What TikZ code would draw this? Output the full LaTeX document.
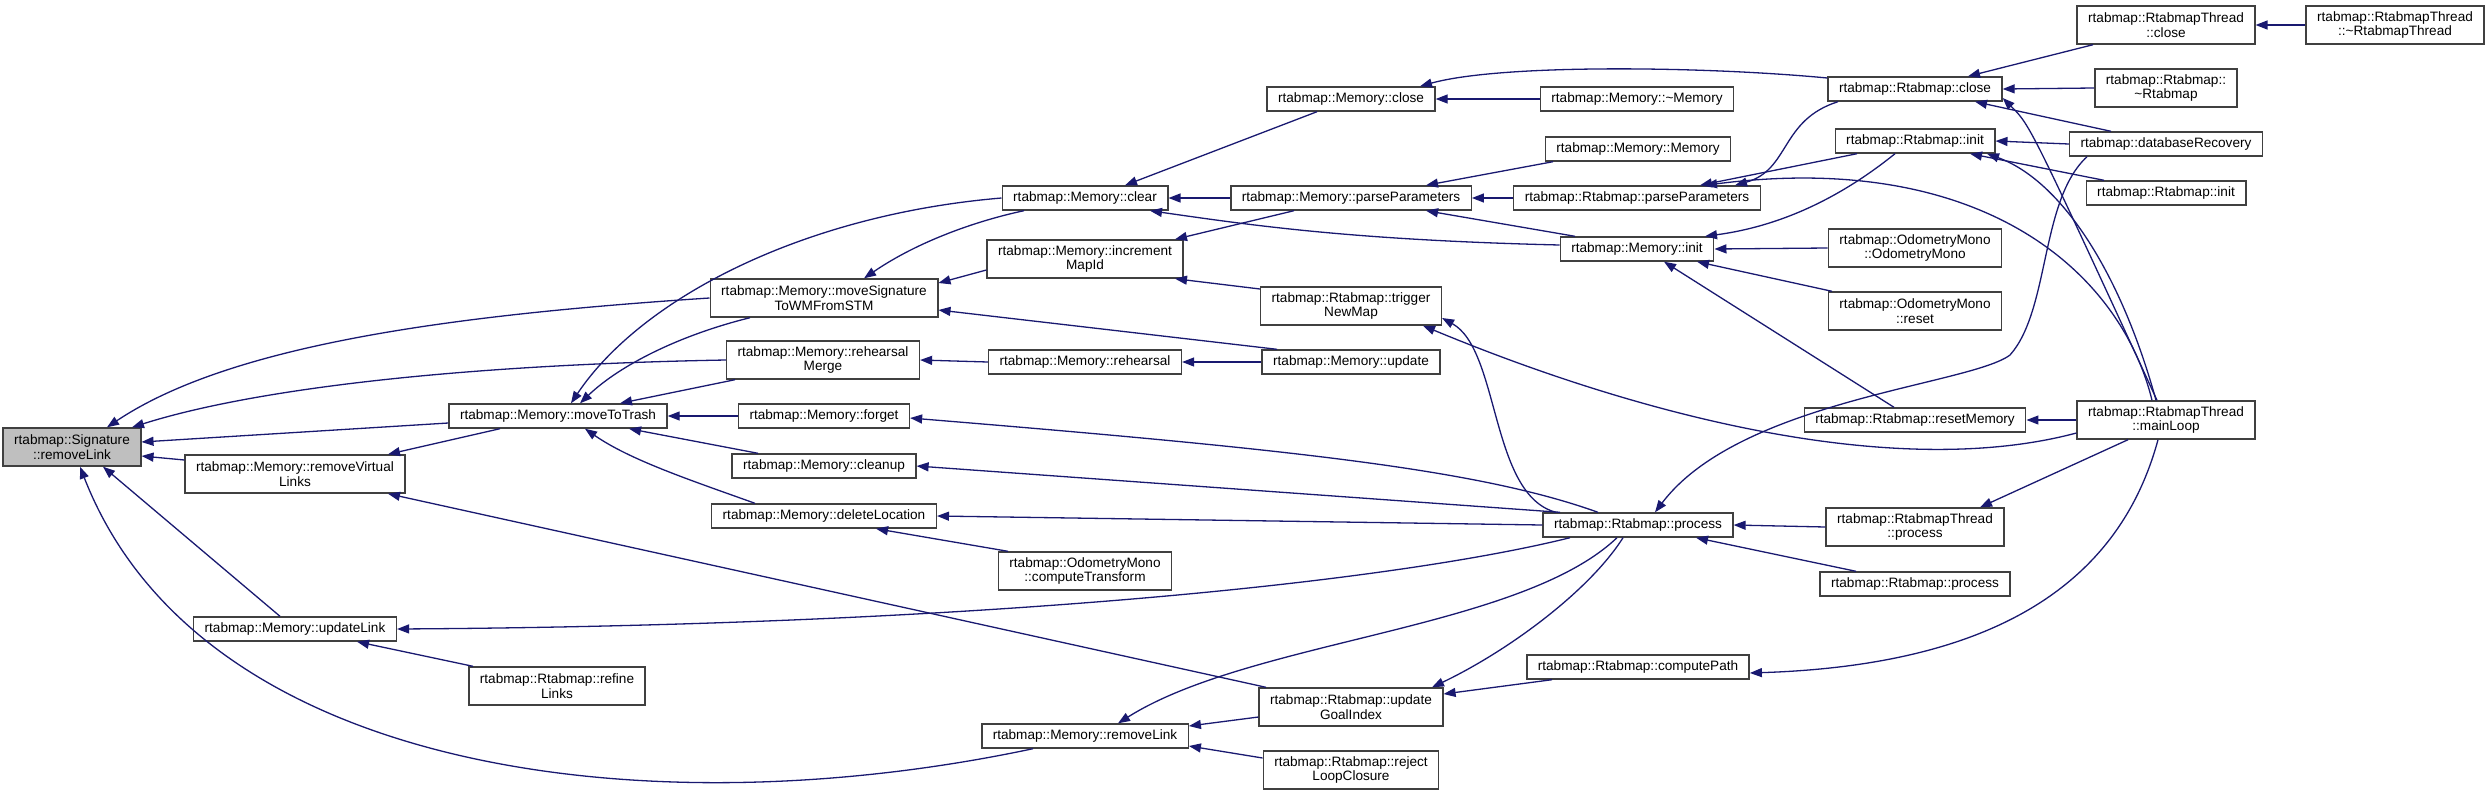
\documentclass[tikz,border=0pt]{standalone}
\usepackage{fontspec}
\setmainfont{Liberation Sans}
\usepackage{xcolor}
\definecolor{edgeblue}{RGB}{25, 25, 112}
\definecolor{frame}{RGB}{64, 64, 64}
\definecolor{boxgray}{RGB}{191, 191, 191}
\usepackage{tikz}
\usetikzlibrary{arrows.meta, positioning}
\tikzset{
  fnbox/.style={draw=frame, line width=1.4pt, fill=white,
    align=center, font=\fontsize{13.6}{14.5}\selectfont,
    inner xsep=11pt, inner ysep=2pt, minimum height=24pt},
  twoline/.style={minimum height=38pt},
  focusbox/.style={fill=boxgray},
  callarrow/.style={-{Triangle[length=12pt,width=9pt]}, draw=edgeblue, line width=1.3pt}
}

\begin{document}
\begin{tikzpicture}[x=1pt, y=-1pt]
  \useasboundingbox (0,0) rectangle (2488,795);

  % callee
  \node[fnbox, twoline, focusbox] (sig) at (72,447) {rtabmap::Signature\\::removeLink};

  \node[fnbox]          (mtt)    at (558,416) {rtabmap::Memory::moveToTrash};
  \node[fnbox, twoline] (rvl)    at (295,474) {rtabmap::Memory::removeVirtual\\Links};
  \node[fnbox]          (upl)    at (295,629) {rtabmap::Memory::updateLink};
  \node[fnbox, twoline] (refl)   at (557,686) {rtabmap::Rtabmap::refine\\Links};

  \node[fnbox, twoline] (msig)   at (824,298) {rtabmap::Memory::moveSignature\\ToWMFromSTM};
  \node[fnbox, twoline] (rmerge) at (823,360) {rtabmap::Memory::rehearsal\\Merge};
  \node[fnbox]          (forget) at (824,416) {rtabmap::Memory::forget};
  \node[fnbox]          (cleanup) at (824,466) {rtabmap::Memory::cleanup};
  \node[fnbox]          (delloc) at (824,516) {rtabmap::Memory::deleteLocation};

  \node[fnbox]          (mclear) at (1085,198) {rtabmap::Memory::clear};
  \node[fnbox, twoline] (inc)    at (1085,259) {rtabmap::Memory::increment\\MapId};
  \node[fnbox]          (reh)    at (1085,362) {rtabmap::Memory::rehearsal};
  \node[fnbox, twoline] (ctrans) at (1085,571) {rtabmap::OdometryMono\\::computeTransform};
  \node[fnbox]          (mrl)    at (1085,736) {rtabmap::Memory::removeLink};

  \node[fnbox]          (mclose) at (1351,99)  {rtabmap::Memory::close};
  \node[fnbox]          (mpp)    at (1351,198) {rtabmap::Memory::parseParameters};
  \node[fnbox, twoline] (trig)   at (1351,306) {rtabmap::Rtabmap::trigger\\NewMap};
  \node[fnbox]          (mupd)   at (1351,362) {rtabmap::Memory::update};
  \node[fnbox, twoline] (ugi)    at (1351,707) {rtabmap::Rtabmap::update\\GoalIndex};
  \node[fnbox, twoline] (rlc)    at (1351,770) {rtabmap::Rtabmap::reject\\LoopClosure};

  \node[fnbox]          (mdest)  at (1637,99)  {rtabmap::Memory::\textasciitilde Memory};
  \node[fnbox]          (mmem)   at (1638,149) {rtabmap::Memory::Memory};
  \node[fnbox]          (rpp)    at (1637,198) {rtabmap::Rtabmap::parseParameters};
  \node[fnbox]          (minit)  at (1637,249) {rtabmap::Memory::init};
  \node[fnbox]          (rproc)  at (1638,525) {rtabmap::Rtabmap::process};
  \node[fnbox]          (cpath)  at (1638,667) {rtabmap::Rtabmap::computePath};

  \node[fnbox]          (rclose) at (1915,89)  {rtabmap::Rtabmap::close};
  \node[fnbox]          (rinit)  at (1915,141) {rtabmap::Rtabmap::init};
  \node[fnbox, twoline] (odo)    at (1915,248) {rtabmap::OdometryMono\\::OdometryMono};
  \node[fnbox, twoline] (odoreset) at (1915,311) {rtabmap::OdometryMono\\::reset};
  \node[fnbox]          (rreset) at (1915,420) {rtabmap::Rtabmap::resetMemory};
  \node[fnbox, twoline] (tproc)  at (1915,527) {rtabmap::RtabmapThread\\::process};
  \node[fnbox]          (rproc2) at (1915,584) {rtabmap::Rtabmap::process};

  \node[fnbox, twoline] (tclose) at (2166,25)  {rtabmap::RtabmapThread\\::close};
  \node[fnbox, twoline] (rdest)  at (2166,88)  {rtabmap::Rtabmap::\\\textasciitilde Rtabmap};
  \node[fnbox]          (dbrec)  at (2166,144) {rtabmap::databaseRecovery};
  \node[fnbox]          (rinit2) at (2166,193) {rtabmap::Rtabmap::init};
  \node[fnbox, twoline] (mainloop) at (2166,420) {rtabmap::RtabmapThread\\::mainLoop};
  \node[fnbox, twoline] (tdest)  at (2395,25)  {rtabmap::RtabmapThread\\::\textasciitilde RtabmapThread};

  % calls into Signature::removeLink
  \draw[callarrow] (msig.west) .. controls (450,315) and (230,345) .. ([xshift=35pt]sig.north);
  \draw[callarrow] (rmerge.west) .. controls (450,365) and (250,390) .. ([xshift=60pt]sig.north);
  \draw[callarrow] ([yshift=-7pt]mtt.west) -- ([yshift=5pt]sig.east);
  \draw[callarrow] ([yshift=14pt]rvl.west) -- ([yshift=-9pt]sig.east);
  \draw[callarrow] ([xshift=-15pt]upl.north) -- ([xshift=31pt]sig.south);
  \draw[callarrow] ([xshift=-52pt]mrl.south) .. controls (650,830) and (200,775) .. ([xshift=8pt]sig.south);

  % column 3
  \draw[callarrow] (mclear.west) .. controls (800,215) and (640,300) .. ([xshift=13pt]mtt.north);
  \draw[callarrow] ([xshift=-74pt]msig.south) .. controls (680,335) and (620,365) .. ([xshift=22pt]mtt.north);
  \draw[callarrow] ([xshift=-88pt]rmerge.south) -- ([xshift=62pt]mtt.north);
  \draw[callarrow] (forget.west) -- (mtt.east);
  \draw[callarrow] ([xshift=-66pt]cleanup.north) -- ([xshift=71pt]mtt.south);
  \draw[callarrow] ([xshift=-69pt]delloc.north) .. controls (690,480) and (630,460) .. ([xshift=27pt]mtt.south);
  \draw[callarrow] ([xshift=-58pt]mtt.south) -- ([xshift=93pt]rvl.north);
  \draw[callarrow] ([xshift=-85pt]ugi.north) -- ([xshift=93pt]rvl.south);
  \draw[callarrow] ([xshift=-68pt]rproc.south) .. controls (1400,580) and (1000,625) .. (upl.east);
  \draw[callarrow] ([xshift=-84pt]refl.north) -- ([xshift=62pt]upl.south);

  % column 4
  \draw[callarrow] ([xshift=-34pt]mclose.south) -- ([xshift=40pt]mclear.north);
  \draw[callarrow] (mpp.west) -- (mclear.east);
  \draw[callarrow] ([yshift=4pt]minit.west) .. controls (1350,240) and (1250,225) .. ([xshift=65pt]mclear.south);
  \draw[callarrow] ([xshift=-61pt]mclear.south) .. controls (980,220) and (920,240) .. ([xshift=40pt]msig.north);
  \draw[callarrow] ([yshift=-11pt]inc.west) -- ([yshift=15pt]msig.east);
  \draw[callarrow] ([xshift=-74pt]mupd.north) -- ([yshift=-12pt]msig.east);
  \draw[callarrow] (reh.west) -- (rmerge.east);
  \draw[callarrow] ([xshift=-40pt]rproc.north) .. controls (1480,470) and (1300,450) .. ([yshift=-2pt]forget.east);
  \draw[callarrow] ([xshift=-78pt]rproc.north) -- (cleanup.east);
  \draw[callarrow] (rproc.west) -- (delloc.east);
  \draw[callarrow] ([xshift=-77pt]ctrans.north) -- ([xshift=52pt]delloc.south);

  % column 5
  \draw[callarrow] ([yshift=11pt]rclose.west) .. controls (1700,66) and (1500,64) .. ([xshift=69pt]mclose.north);
  \draw[callarrow] (mdest.west) -- (mclose.east);
  \draw[callarrow] ([xshift=-85pt]mmem.south) -- ([xshift=75pt]mpp.north);
  \draw[callarrow] (rpp.west) -- (mpp.east);
  \draw[callarrow] ([xshift=-62pt]minit.north) -- ([xshift=75pt]mpp.south);
  \draw[callarrow] ([xshift=-57pt]mpp.south) -- ([xshift=90pt]inc.north);
  \draw[callarrow] ([yshift=17pt]trig.west) -- ([xshift=90pt]inc.south);
  \draw[callarrow] (mupd.west) -- (reh.east);
  \draw[callarrow] ([xshift=-82pt]rproc.north) .. controls (1490,495) and (1500,350) .. ([yshift=-12pt]trig.east);
  \draw[callarrow] ([yshift=-13pt]mainloop.west) .. controls (1900,480) and (1650,420) .. ([xshift=72pt]trig.south);
  \draw[callarrow] ([xshift=-15pt]rproc.south) .. controls (1590,590) and (1510,650) .. ([xshift=81pt]ugi.north);
  \draw[callarrow] ([xshift=-86pt]cpath.south) -- ([yshift=13pt]ugi.east);
  \draw[callarrow] ([xshift=-21pt]rproc.south) .. controls (1520,630) and (1250,640) .. ([xshift=33pt]mrl.north);
  \draw[callarrow] ([yshift=-10pt]ugi.west) -- ([yshift=10pt]mrl.east);
  \draw[callarrow] ([yshift=12pt]rlc.west) -- ([yshift=-10pt]mrl.east);

  % column 6
  \draw[callarrow] ([xshift=-77pt]rclose.south) .. controls (1780,120) and (1790,170) .. ([xshift=98pt]rpp.north);
  \draw[callarrow] ([xshift=-58pt]rinit.south) -- ([xshift=63pt]rpp.north);
  \draw[callarrow] ([xshift=-14pt]mainloop.north) .. controls (2120,270) and (1980,150) .. ([xshift=68pt]rpp.north);
  \draw[callarrow] ([xshift=-20pt]rinit.south) .. controls (1850,190) and (1790,225) .. ([xshift=68pt]minit.north);
  \draw[callarrow] (odo.west) -- (minit.east);
  \draw[callarrow] ([xshift=-83pt]odoreset.north) -- ([xshift=60pt]minit.south);
  \draw[callarrow] ([xshift=-21pt]rreset.north) -- ([xshift=27pt]minit.south);
  \draw[callarrow] ([xshift=-79pt]dbrec.south) .. controls (2040,200) and (2050,310) .. (2010,355)
      .. controls (1970,385) and (1740,400) .. ([xshift=17pt]rproc.north);
  \draw[callarrow] (tproc.west) -- (rproc.east);
  \draw[callarrow] ([xshift=-59pt]rproc2.north) -- ([xshift=58pt]rproc.south);
  \draw[callarrow] ([xshift=-8pt]mainloop.south) .. controls (2120,580) and (2000,665) .. ([yshift=-6pt]cpath.east);

  % column 7
  \draw[callarrow] ([xshift=-73pt]tclose.south) -- ([xshift=53pt]rclose.north);
  \draw[callarrow] (rdest.west) -- (rclose.east);
  \draw[callarrow] ([xshift=-55pt]dbrec.north) -- ([xshift=60pt]rclose.south);
  \draw[callarrow] ([xshift=-9pt]mainloop.north) .. controls (2030,125) .. ([yshift=-9pt]rclose.east);
  \draw[callarrow] (dbrec.west) -- (rinit.east);
  \draw[callarrow] ([xshift=-62pt]rinit2.north) -- ([xshift=55pt]rinit.south);
  \draw[callarrow] ([xshift=-10pt]mainloop.north) .. controls (2120,270) and (2060,180) .. ([xshift=72pt]rinit.south);
  \draw[callarrow] (mainloop.west) -- (rreset.east);
  \draw[callarrow] ([xshift=-38pt]mainloop.south) -- ([xshift=65pt]tproc.north);
  \draw[callarrow] (tdest.west) -- (tclose.east);

\end{tikzpicture}
\end{document}
